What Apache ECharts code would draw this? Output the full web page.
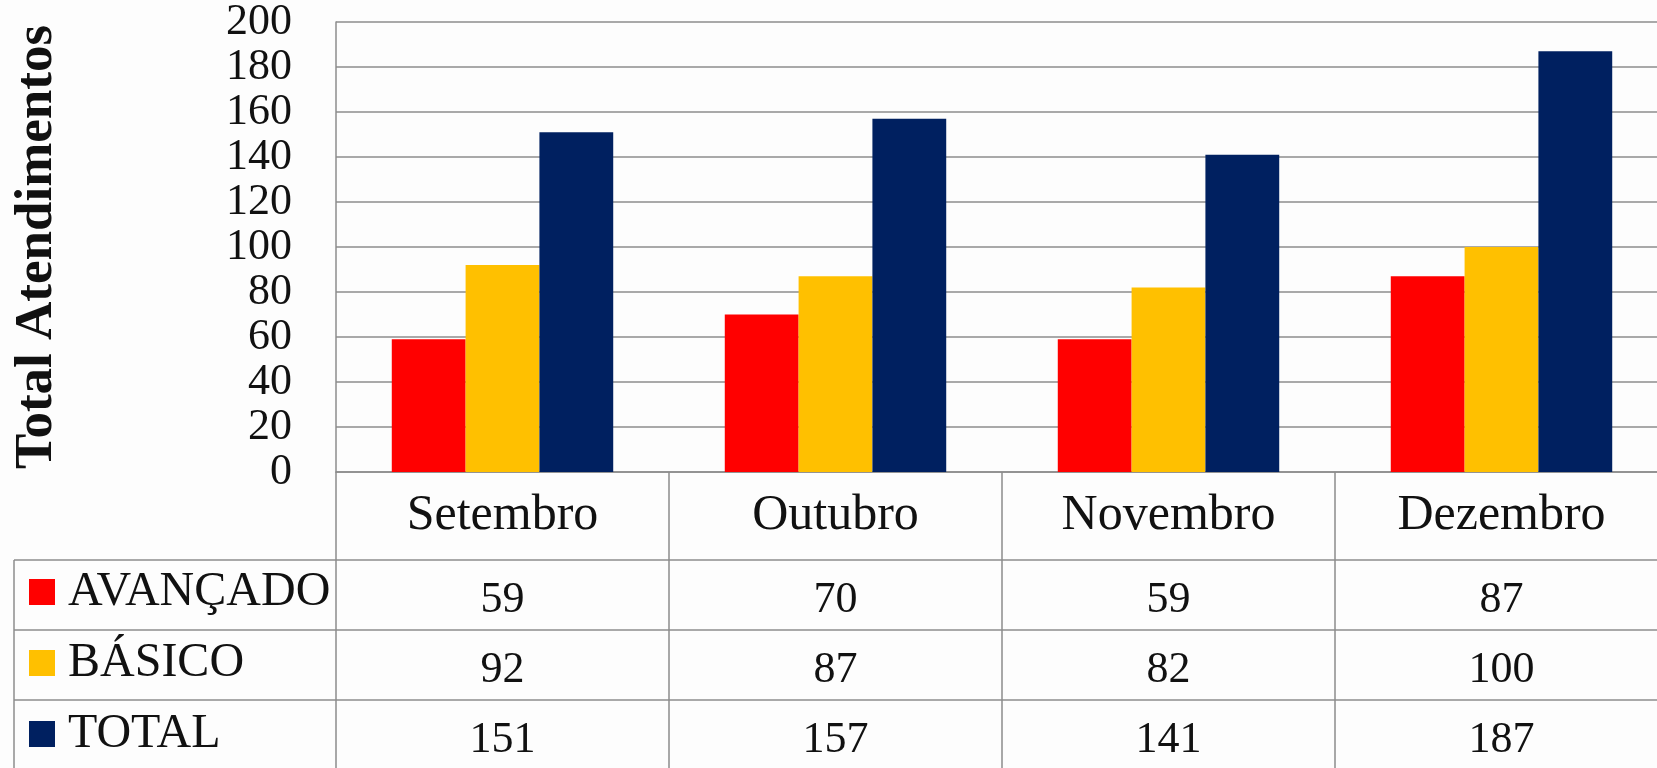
<!DOCTYPE html>
<html>
<head>
<meta charset="utf-8">
<script src="https://cdn.jsdelivr.net/npm/echarts@6/dist/echarts.min.js"></script>
<style>
    html, body {
        margin: 0;
        padding: 0;
        background: #fdfdfd;
    }

    #chart {
        width: 1657px;
        height: 768px;
    }
</style>
</head>
<body>
<div id="chart"></div>
<script>
const months = ['Setembro', 'Outubro', 'Novembro', 'Dezembro']
const seriesNames = ['AVANÇADO', 'BÁSICO', 'TOTAL']
const avancado = [59, 70, 59, 87]
const basico = [92, 87, 82, 100]
const total = [151, 157, 141, 187]
const yTicks = [0, 20, 40, 60, 80, 100, 120, 140, 160, 180, 200]

const colors = ['#ff0000', '#ffc000', '#002060']
const lineColor = '#8c8c8c'
const font = '"Liberation Serif", "DejaVu Serif", serif'

// layout of the plot and the data table under it
const plotLeft = 336
const plotTop = 22
const plotBottom = 472
const tableTop = 560
const rowHeight = 70
const tableLeft = 14
const H = 768
const W = 1657

const chart = echarts.init(document.getElementById('chart'))

const rowValues = [avancado, basico, total]

function tableLines() {
    const items = []
    for (let r = 0; r < 3; r++) {
        const y = tableTop + r * rowHeight
        items.push({
            type: 'line',
            shape: { x1: tableLeft, y1: y, x2: W, y2: y },
            style: { stroke: lineColor, lineWidth: 1.5 }
        })
    }
    items.push({
        type: 'line',
        shape: { x1: tableLeft, y1: tableTop, x2: tableLeft, y2: H },
        style: { stroke: lineColor, lineWidth: 1.5 }
    })
    return items
}

const option = {
    backgroundColor: '#fdfdfd',
    animation: false,
    grid: {
        left: plotLeft,
        top: plotTop,
        right: -11,
        bottom: H - plotBottom,
        outerBoundsMode: 'none'
    },
    legend: {
        orient: 'vertical',
        left: 29,
        top: 567,
        height: 400,
        padding: 0,
        icon: 'rect',
        itemWidth: 26,
        itemHeight: 26,
        itemGap: 21,
        data: seriesNames,
        selectedMode: false,
        textStyle: {
            fontFamily: font,
            fontSize: 48,
            lineHeight: 50,
            color: '#111',
            padding: [0, 0, 0, 8]
        }
    },
    xAxis: {
        type: 'category',
        data: months,
        axisLine: { lineStyle: { color: lineColor, width: 1.5 } },
        axisTick: {
            show: true,
            length: H - plotBottom + 10,
            lineStyle: { color: lineColor, width: 1.5 }
        },
        axisLabel: {
            interval: 0,
            margin: 0,
            formatter(value, idx) {
                const lines = [`{m|${value}}`]
                rowValues.forEach(arr => lines.push(`{v|${arr[idx]}}`))
                return lines.join('\n')
            },
            rich: {
                m: {
                    fontFamily: font,
                    fontSize: 50,
                    lineHeight: tableTop - plotBottom,
                    color: '#111'
                },
                v: {
                    fontFamily: font,
                    fontSize: 44,
                    lineHeight: rowHeight,
                    padding: [10, 0, 0, 0],
                    color: '#111'
                }
            }
        }
    },
    yAxis: {
        type: 'value',
        min: 0,
        max: 200,
        interval: 20,
        name: 'Total Atendimentos',
        nameLocation: 'middle',
        nameGap: 272,
        nameTextStyle: {
            fontFamily: font,
            fontSize: 53,
            fontWeight: 'bold',
            color: '#111'
        },
        axisLine: { show: true, lineStyle: { color: lineColor, width: 1.5 } },
        axisTick: { show: false },
        splitLine: { lineStyle: { color: lineColor, width: 1.5 } },
        axisLabel: {
            margin: 44,
            fontFamily: font,
            fontSize: 44,
            color: '#111',
            formatter: v => (yTicks.includes(v) ? String(v) : '')
        }
    },
    graphic: tableLines(),
    series: [
        {
            name: seriesNames[0],
            type: 'bar',
            data: avancado,
            barGap: '0%',
            barCategoryGap: '33.5%',
            itemStyle: { color: colors[0] }
        },
        {
            name: seriesNames[1],
            type: 'bar',
            data: basico,
            barGap: '0%',
            barCategoryGap: '33.5%',
            itemStyle: { color: colors[1] }
        },
        {
            name: seriesNames[2],
            type: 'bar',
            data: total,
            barGap: '0%',
            barCategoryGap: '33.5%',
            itemStyle: { color: colors[2] }
        }
    ]
}

chart.setOption(option)
</script>
</body>
</html>
